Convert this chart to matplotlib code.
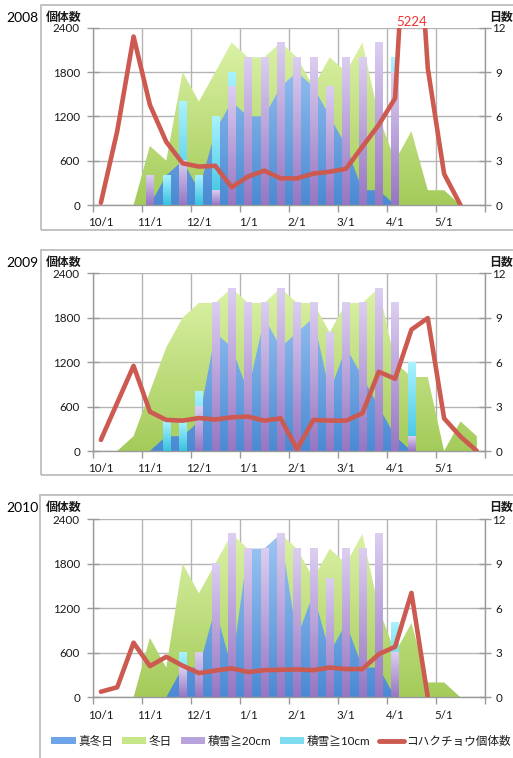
import numpy as np
import matplotlib
matplotlib.use("Agg")
import matplotlib.pyplot as plt
from matplotlib.colors import to_rgb
from matplotlib.patches import Patch, Rectangle
from matplotlib.lines import Line2D
from matplotlib.path import Path

plt.rcParams['font.family'] = ['Lato', 'Noto Sans CJK JP', 'DejaVu Sans']

nan = np.nan

# ---- data: 24 ten-day periods (旬) from early October to late May ----
month_labels = ['10/1', '11/1', '12/1', '1/1', '2/1', '3/1', '4/1', '5/1']
years = ['2008', '2009', '2010']

# 真冬日 (days per period)
mafuyubi_2008 = [nan, nan, nan, 0, 2, 3, 1, 5, 7, 6, 6, 8, 9, 8, 6, 4, 1, 1, 0, nan, nan, nan, nan, nan]
mafuyubi_2009 = [nan, nan, nan, 0, 1, 1, 2, 8, 7, 4, 9, 7, 8, 9, 4, 7, 5, 3, 1, 0, nan, nan, nan, nan]
mafuyubi_2010 = [nan, nan, nan, nan, 0, 2, 2, 6, 2, 10, 10, 11, 4, 7, 3, 5, 2, 2, 0, nan, nan, nan, nan, nan]

# 冬日 (days per period)
fuyubi_2008 = [nan, nan, 0, 4, 3, 9, 7, 9, 11, 10, 10, 11, 10, 8, 10, 9, 11, 6, 3, 5, 1, 1, 0, nan]
fuyubi_2009 = [nan, 0, 1, 4, 7, 9, 10, 10, 11, 10, 10, 11, 10, 10, 8, 10, 10, 11, 6, 5, 5, 0, 2, 1]
fuyubi_2010 = [nan, nan, 0, 4, 2, 9, 7, 9, 11, 10, 10, 11, 10, 8, 10, 9, 11, 6, 3, 5, 1, 1, 0, nan]

# 積雪≧20cm (days per period)
snow20_2008 = [0, 0, 0, 2, 0, 3, 0, 1, 8, 10, 10, 11, 10, 10, 8, 10, 10, 11, 9, 0, 0, 0, 0, 0]
snow20_2009 = [0, 0, 0, 0, 0, 0, 3, 10, 11, 10, 10, 11, 10, 10, 8, 10, 10, 11, 10, 1, 0, 0, 0, 0]
snow20_2010 = [0, 0, 0, 0, 0, 2, 3, 9, 11, 10, 10, 11, 10, 10, 8, 10, 10, 11, 3, 0, 0, 0, 0, 0]

# 積雪≧10cm (days per period)
snow10_2008 = [0, 0, 0, 2, 2, 7, 2, 6, 9, 10, 10, 11, 10, 10, 8, 10, 10, 11, 10, 0, 0, 0, 0, 0]
snow10_2009 = [0, 0, 0, 0, 2, 2, 4, 10, 11, 10, 10, 11, 10, 10, 8, 10, 10, 11, 10, 6, 0, 0, 0, 0]
snow10_2010 = [0, 0, 0, 0, 0, 3, 3, 9, 11, 10, 10, 11, 10, 10, 8, 10, 10, 11, 5, 0, 0, 0, 0, 0]

# コハクチョウ個体数
swans_2008 = [30, 1000, 2280, 1355, 855, 565, 520, 530, 240, 385, 465, 360, 360, 425, 450, 490,
              790, 1085, 1445, 5224, 1850, 420, 0, nan]
swans_2009 = [150, 650, 1150, 530, 420, 410, 445, 425, 455, 465, 410, 440, 20, 420, 410, 410,
              510, 1070, 975, 1640, 1795, 440, 195, 0]
swans_2010 = [75, 135, 735, 420, 545, 425, 325, 360, 390, 340, 365, 370, 375, 365, 400, 380,
              380, 580, 680, 1405, 0, nan, nan, nan]

seasons = [
    (mafuyubi_2008, fuyubi_2008, snow20_2008, snow10_2008, swans_2008),
    (mafuyubi_2009, fuyubi_2009, snow20_2009, snow10_2009, swans_2009),
    (mafuyubi_2010, fuyubi_2010, snow20_2010, snow10_2010, swans_2010),
]

# ---- style ----
GREEN_TOP, GREEN_BOT = '#e0f5ac', '#a4cb5a'
BLUE_TOP, BLUE_BOT = '#a6ccf7', '#4a8ad3'
PURPLE_TOP, PURPLE_BOT = '#dccef1', '#9676c2'
CYAN_TOP, CYAN_BOT = '#aaf3ff', '#38c2df'
RED = '#cd5a51'
GRID = '#b4b4b4'
SPINE = '#9a9a9a'
BOX = '#b8b8b8'
TXT = '#1a1a1a'

W, H = 513, 758
fig = plt.figure(figsize=(W / 100, H / 100), dpi=100)


def fx(px):
    return px / W


def fy(py):
    return 1 - py / H


def gradient(top, bottom, n=128):
    c0 = np.array(to_rgb(bottom))
    c1 = np.array(to_rgb(top))
    t = np.linspace(0, 1, n)[:, None, None]
    return c0 + (c1 - c0) * t


def gradient_area(ax, x, y, top, bottom, zorder):
    coll = ax.fill_between(x, y, 0, facecolor='none', edgecolor='none', zorder=zorder)
    paths = coll.get_paths()
    if not paths:
        return
    clip = Path.make_compound_path(*paths)
    im = ax.imshow(gradient(top, bottom), extent=(-0.5, 23.5, 0, 12), origin='lower',
                   aspect='auto', interpolation='bilinear', zorder=zorder)
    im.set_clip_path(clip, transform=ax.transData)


def gradient_bars(ax, x, h, top, bottom, zorder, width=0.45):
    bars = ax.bar(x, h, width=width, color='none', edgecolor='none', zorder=zorder)
    for rect in bars:
        hh = rect.get_height()
        if hh <= 0:
            continue
        x0 = rect.get_x()
        ax.imshow(gradient(top, bottom), extent=(x0, x0 + rect.get_width(), 0, hh),
                  origin='lower', aspect='auto', interpolation='bilinear', zorder=zorder)


# plot-area pixel geometry of the three panels
plot_left, plot_right = 92.7, 485.0
plot_tops = [27.7, 273.3, 519.0]
plot_bottoms = [205.0, 451.0, 697.3]
box_tops = [5.0, 250.0, 495.0]
box_bottoms = [229.5, 474.5, 800.0]
box_lefts = [41.0, 41.0, 40.0]
title_y = [17.5, 262.0, 507.0]
year_y = [18.0, 263.0, 508.0]

x = np.arange(24)

for k, (mafuyu, fuyu, s20, s10, swans) in enumerate(seasons):
    # chart frame
    fig.add_artist(Rectangle((fx(box_lefts[k]), fy(box_bottoms[k])),
                             fx(700), (box_bottoms[k] - box_tops[k]) / H,
                             transform=fig.transFigure, fill=False,
                             edgecolor=BOX, lw=1.2, zorder=0))

    ax = fig.add_axes([fx(plot_left), fy(plot_bottoms[k]),
                       (plot_right - plot_left) / W,
                       (plot_bottoms[k] - plot_tops[k]) / H])
    axc = ax.twinx()

    # days (right axis): areas and bars
    gradient_area(ax, x, np.array(fuyu, float), GREEN_TOP, GREEN_BOT, zorder=1)
    gradient_area(ax, x, np.array(mafuyu, float), BLUE_TOP, BLUE_BOT, zorder=2)
    gradient_bars(ax, x, s10, CYAN_TOP, CYAN_BOT, zorder=3)
    gradient_bars(ax, x, s20, PURPLE_TOP, PURPLE_BOT, zorder=4)

    ax.set_xlim(-0.5, 23.5)
    ax.set_ylim(0, 12)
    ax.set_yticks(np.arange(0, 13, 3))
    ax.set_xticks(np.arange(0, 24, 3))
    ax.set_xticklabels(month_labels)
    ax.set_xticks(np.arange(-0.5, 24, 3), minor=True)

    ax.set_axisbelow(True)
    ax.grid(axis='y', which='major', color=GRID, lw=1.0, zorder=0.5)
    ax.grid(axis='x', which='minor', color=GRID, lw=1.0, zorder=0.5)
    ax.grid(axis='x', which='major', visible=False)

    for side in ('left', 'right', 'bottom'):
        ax.spines[side].set_color(SPINE)
        ax.spines[side].set_linewidth(1.0)
    ax.spines['top'].set_visible(False)

    ax.yaxis.tick_right()
    ax.tick_params(axis='y', which='major', direction='inout', length=8, width=1.0,
                   color=SPINE, pad=5.8, labelsize=8.4, labelcolor=TXT)
    for lbl in ax.get_yticklabels():
        lbl.set_horizontalalignment('center')
    ax.tick_params(axis='x', which='major', length=0, pad=9.0, labelsize=8.4, labelcolor=TXT)
    ax.tick_params(axis='x', which='minor', direction='out', length=5, width=1.0, color=SPINE)

    # swan counts (left axis)
    axc.plot(x, swans, color=RED, lw=3.3, solid_joinstyle='round',
             solid_capstyle='round', zorder=5)
    axc.set_ylim(0, 2400)
    axc.set_yticks(np.arange(0, 2401, 600))
    axc.yaxis.tick_left()
    axc.tick_params(axis='y', direction='inout', length=8, width=1.0, color=SPINE,
                    pad=5.2, labelsize=8.4, labelcolor=TXT)
    for sp in axc.spines.values():
        sp.set_visible(False)

    # value label for the off-scale peak
    sw = np.array(swans, float)
    if np.nanmax(sw) > 2400:
        i = int(np.nanargmax(sw))
        axc.text(x[i], 2400, f'{sw[i]:.0f}', color='#f03030', ha='center', va='bottom',
                 fontsize=9.5, clip_on=False, zorder=6)

    fig.text(fx(6), fy(year_y[k]), years[k], fontsize=10, color='black',
             ha='left', va='center')
    fig.text(fx(45.5), fy(title_y[k]), '個体数', fontsize=8.6, fontweight='bold',
             color=TXT, ha='left', va='center')
    fig.text(fx(489), fy(title_y[k]), '日数', fontsize=8.6, fontweight='bold',
             color=TXT, ha='left', va='center')

handles = [
    Patch(facecolor='#6ea5e8', edgecolor='none'),
    Patch(facecolor='#c6e68a', edgecolor='none'),
    Patch(facecolor='#b9a3dc', edgecolor='none'),
    Patch(facecolor='#7ddcf0', edgecolor='none'),
    Line2D([], [], color=RED, lw=3.5, solid_capstyle='round'),
]
labels = ['真冬日', '冬日', '積雪≧20cm', '積雪≧10cm', 'コハクチョウ個体数']
fig.legend(handles, labels, loc='center', bbox_to_anchor=(fx(281), fy(741)), ncol=5,
           frameon=False, fontsize=8.4, handlelength=2.1, handleheight=0.55,
           handletextpad=0.2, columnspacing=0.75, borderaxespad=0, borderpad=0,
           labelcolor=TXT)

fig.savefig('out.png', dpi=100)
